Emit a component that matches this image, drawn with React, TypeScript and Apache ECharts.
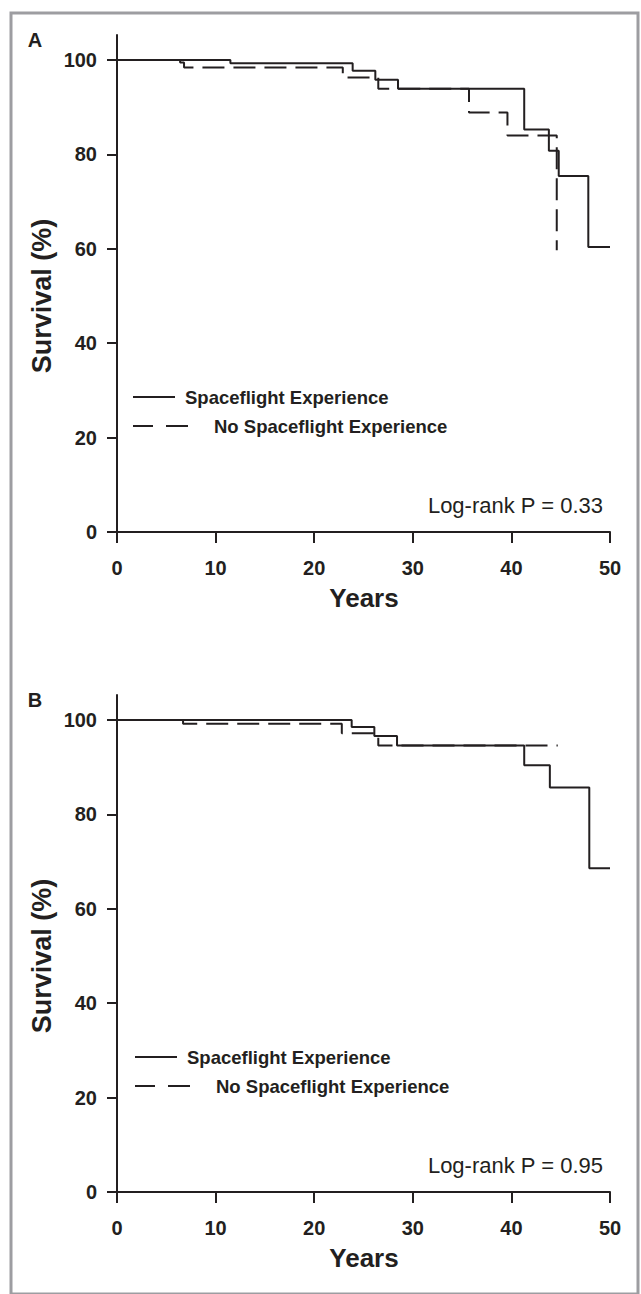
import React, { useEffect, useRef } from "react";
import * as echarts from "echarts";

// Panel A: [years, survival %]
const spaceflightA: [number, number][] = [
  [0, 100], [11.5, 99.3], [23.9, 97.7], [26.2, 95.8], [28.5, 93.9],
  [41.3, 85.3], [43.8, 80.8], [44.8, 75.4], [47.8, 60.4], [50, 60.4],
];
const noSpaceflightA: [number, number][] = [
  [0, 100], [6.4, 99.5], [6.8, 98.4], [22.9, 96.3], [26.5, 93.9],
  [35.7, 88.9], [39.6, 84.0], [44.6, 59.7],
];
// Panel B
const spaceflightB: [number, number][] = [
  [0, 100], [23.8, 98.5], [26.1, 96.6], [28.4, 94.6], [41.3, 90.4],
  [43.9, 85.7], [47.9, 68.6], [50, 68.6],
];
const noSpaceflightB: [number, number][] = [
  [0, 100], [6.7, 99.2], [22.8, 97.2], [26.5, 94.6], [44.7, 94.6],
];

const yTicks = [0, 20, 40, 60, 80, 100];
const xTicks = [0, 10, 20, 30, 40, 50];
const panelLabels = ["A", "B"];
const pValues = ["Log-rank P = 0.33", "Log-rank P = 0.95"];
const legendNames = ["Spaceflight Experience", "No Spaceflight Experience"];
const xName = "Years";
const yName = "Survival (%)";

const INK = "#231f20";
const FONT = "'Liberation Sans', Arial, Helvetica, sans-serif";

export default function App() {
  const ref = useRef<HTMLDivElement>(null);
  useEffect(() => {
    document.body.style.margin = "0";
    const chart = echarts.init(ref.current!, undefined, { renderer: "svg" });
    const offsets = [0, 660];
    const grids = offsets.map((o) => ({ left: 117, width: 493, top: 35 + o, height: 497 }));
    const xAxes = offsets.map((_, i) => ({
      type: "value", gridIndex: i, min: 0, max: 50, interval: 10,
      axisLine: { show: true, lineStyle: { color: INK, width: 2 } },
      axisTick: { show: true, length: 11, lineStyle: { color: INK, width: 2 } },
      axisLabel: { margin: 26, color: INK, fontSize: 20, fontWeight: "bold", fontFamily: FONT,
        customValues: xTicks },
      splitLine: { show: false },
    }));
    const yAxes = offsets.map((_, i) => ({
      type: "value", gridIndex: i, min: 0, max: 105.3,
      axisLine: { show: true, lineStyle: { color: INK, width: 2 } },
      axisTick: { show: true, length: 10, lineStyle: { color: INK, width: 2 }, customValues: yTicks },
      axisLabel: { margin: 20, color: INK, fontSize: 20, fontWeight: "bold", fontFamily: FONT,
        customValues: yTicks },
      splitLine: { show: false },
    }));
    const mk = (data: [number, number][], idx: number, dashed: boolean, name: string) => ({
      type: "line", name, xAxisIndex: idx, yAxisIndex: idx, data, step: "end",
      showSymbol: false, symbol: "none",
      lineStyle: { color: INK, width: 2, type: dashed ? [22, 9] : "solid" },
      z: dashed ? 3 : 2,
    });
    const series = [
      mk(spaceflightA, 0, false, legendNames[0]),
      mk(noSpaceflightA, 0, true, legendNames[1]),
      mk(spaceflightB, 1, false, legendNames[0]),
      mk(noSpaceflightB, 1, true, legendNames[1]),
    ];
    const graphic: any[] = [
      { type: "rect", shape: { x: 11, y: 13, width: 627, height: 1281 },
        style: { fill: "none", stroke: "#9d9da1", lineWidth: 3 }, z: 0 },
    ];
    offsets.forEach((o, i) => {
      const dx = i === 0 ? 0 : 2;
      graphic.push(
        { type: "text", x: 35, y: 40 + o, style: { text: panelLabels[i], font: `bold 20px ${FONT}`,
          fill: INK, textAlign: "center", textVerticalAlign: "middle" } },
        { type: "text", x: 364, y: 598 + o, style: { text: xName, font: `bold 26px ${FONT}`,
          fill: INK, textAlign: "center", textVerticalAlign: "middle" } },
        { type: "text", x: 42, y: 296 + o, rotation: Math.PI / 2, style: { text: yName,
          font: `bold 27px ${FONT}`, fill: INK, textAlign: "center", textVerticalAlign: "middle" } },
        { type: "line", shape: { x1: 133 + dx, y1: 397 + o, x2: 175 + dx, y2: 397 + o },
          style: { stroke: INK, lineWidth: 2 } },
        { type: "line", shape: { x1: 133 + dx, y1: 426 + o, x2: 153 + dx, y2: 426 + o },
          style: { stroke: INK, lineWidth: 2 } },
        { type: "line", shape: { x1: 166 + dx, y1: 426 + o, x2: 188 + dx, y2: 426 + o },
          style: { stroke: INK, lineWidth: 2 } },
        { type: "text", x: 185 + dx, y: 397 + o, style: { text: legendNames[0],
          font: `bold 18.5px ${FONT}`, fill: INK, textAlign: "left", textVerticalAlign: "middle" } },
        { type: "text", x: 214 + dx, y: 426 + o, style: { text: legendNames[1],
          font: `bold 18.5px ${FONT}`, fill: INK, textAlign: "left", textVerticalAlign: "middle" } },
        { type: "text", x: 603, y: 505 + o, style: { text: pValues[i],
          font: `22px ${FONT}`, fill: INK, textAlign: "right", textVerticalAlign: "middle" } },
      );
    });
    chart.setOption({
      animation: false,
      backgroundColor: "#ffffff",
      grid: grids,
      xAxis: xAxes,
      yAxis: yAxes,
      series,
      graphic,
    });
    return () => chart.dispose();
  }, []);
  return <div ref={ref} style={{ width: 641, height: 1294 }} />;
}
